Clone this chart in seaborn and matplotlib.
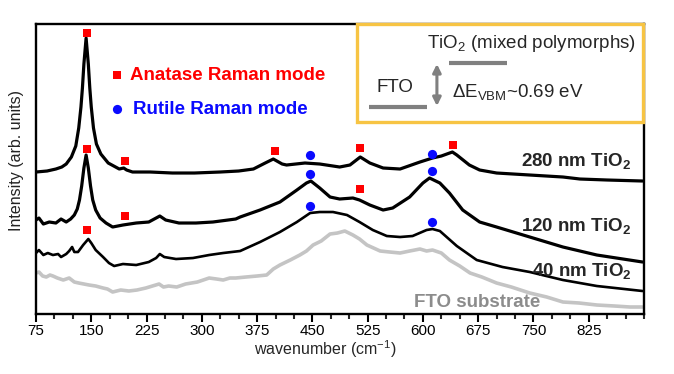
import matplotlib
matplotlib.use("Agg")
import matplotlib.pyplot as plt
from matplotlib.patches import Rectangle
import seaborn as sns

# Raman spectra (wavenumber in cm-1, intensity in arb. units)
wn_280 = [75, 90, 102, 110, 116, 123, 129, 133, 136, 138, 140, 143, 146, 148, 150, 153, 157,
          163, 173, 183, 188, 194, 198, 206, 230, 260, 290, 325, 350, 370, 386, 397, 409, 415,
          440, 460, 487, 501, 515, 528, 546, 569, 596, 613, 625, 640, 646, 663, 677, 700, 745, 790,
          813, 850, 898]
int_280 = [142, 143, 145, 147, 150, 157, 168, 186, 207, 226, 250, 276, 250, 226, 207, 186, 170,
           160, 151, 147, 145, 146, 144, 142, 142, 141, 141, 142, 143, 145, 151, 155, 150, 149,
           151, 150, 147, 149, 157, 151, 146, 145, 152, 156, 158, 162, 159, 149, 144, 141, 139, 137,
           135, 134, 133]

wn_120 = [75, 79, 85, 93, 102, 109, 116, 122, 127, 131, 134, 137, 140, 143, 146, 149, 152, 156,
          162, 170, 179, 193, 211, 228, 243, 251, 269, 292, 315, 346, 352, 379, 406, 429, 442, 448,
          460, 474, 487, 505, 514, 528, 546, 559, 582, 600, 609, 623, 636, 654, 677, 700, 745, 790,
          836, 898]
int_120 = [94, 96, 90, 92, 91, 95, 92, 95, 99, 105, 114, 128, 146, 159, 146, 128, 114, 104,
           96, 91, 87, 89, 91, 92, 98, 94, 91, 91, 92, 95, 97, 104, 112, 124, 131, 133,
           126, 117, 115, 116, 114, 109, 104, 106, 117, 131, 136, 131, 121, 104, 92, 87, 77, 67,
           59, 52]

wn_40 = [75, 79, 85, 91, 98, 105, 109, 116, 120, 124, 127, 132, 139, 146, 150, 156, 166, 174, 181,
         193, 211, 228, 238, 243, 249, 265, 288, 310, 329, 352, 379, 406, 429, 447, 460, 478, 497,
         514, 532, 551, 569, 586, 605, 613, 623, 646, 673, 708, 745, 790, 836, 898]
int_40 = [61, 64, 59, 61, 59, 60, 57, 60, 63, 67, 62, 62, 69, 75, 71, 64, 57, 51, 48,
          50, 49, 52, 56, 60, 57, 55, 56, 59, 61, 63, 72, 82, 92, 101, 102, 102, 99,
          92, 84, 78, 77, 78, 84, 85, 83, 68, 54, 47, 42, 34, 28, 23]

wn_fto = [75, 79, 84, 89, 94, 98, 104, 112, 120, 127, 133, 140, 147, 156, 166, 172, 179, 190, 201,
          212, 224, 233, 242, 248, 255, 266, 278, 294, 310, 320, 329, 338, 346, 360, 375, 388,
          397, 406, 420, 433, 442, 451, 462, 474, 484, 494, 505, 514, 524, 533, 542, 555, 569,
          582, 596, 605, 613, 625, 636, 650, 664, 680, 700, 720, 745, 768, 790, 812, 836, 860,
          881, 898]
int_fto = [41, 42, 38, 37, 39, 38, 36, 34, 36, 32, 31, 30, 29, 28, 26, 25, 22, 24, 23,
           24, 26, 28, 30, 27, 28, 27, 30, 32, 36, 35, 34, 36, 36, 37, 38, 39,
           45, 49, 54, 59, 63, 69, 73, 80, 81, 83, 79, 75, 69, 66, 63, 62, 61,
           63, 65, 63, 64, 61, 54, 48, 41, 37, 31, 27, 21, 17, 12, 11, 9, 8,
           7, 7]

# Raman mode markers
anatase_wn = [144, 196, 399, 515, 641, 144, 196, 515, 144]
anatase_int = [281, 153, 163, 166, 169, 165, 98, 125, 84]
rutile_wn = [447, 612, 447, 612, 447, 612]
rutile_int = [159, 160, 140, 143, 108, 92]

xticks = [75, 150, 225, 300, 375, 450, 525, 600, 675, 750, 825]

sns.set_style("ticks")
plt.rcParams['font.family'] = ['Liberation Sans', 'DejaVu Sans']
plt.rcParams['mathtext.fontset'] = 'custom'
plt.rcParams['mathtext.rm'] = 'Liberation Sans'
plt.rcParams['mathtext.bf'] = 'Liberation Sans:bold'

fig = plt.figure(figsize=(6.74, 3.74), dpi=100)
ax = fig.add_axes([0.0534, 0.1604, 0.9021, 0.7754])

sns.lineplot(x=wn_fto, y=int_fto, color='#c4c4c4', lw=2.6, ax=ax, sort=False)
sns.lineplot(x=wn_40, y=int_40, color='black', lw=1.9, ax=ax, sort=False)
sns.lineplot(x=wn_120, y=int_120, color='black', lw=2.3, ax=ax, sort=False)
sns.lineplot(x=wn_280, y=int_280, color='black', lw=2.3, ax=ax, sort=False)

sns.scatterplot(x=anatase_wn, y=anatase_int, marker='s', s=34, color='#ff0000', linewidth=0, ax=ax, zorder=5)
sns.scatterplot(x=rutile_wn, y=rutile_int, marker='o', s=44, color='#0a0aff', linewidth=0, ax=ax, zorder=5)

# legend for the markers
sns.scatterplot(x=[185], y=[239], marker='s', s=34, color='#ff0000', linewidth=0, ax=ax)
sns.scatterplot(x=[185], y=[205], marker='o', s=44, color='#0a0aff', linewidth=0, ax=ax)
ax.text(202, 239, 'Anatase Raman mode', color='#ff0000', fontsize=13.5, fontweight='bold', va='center')
ax.text(206, 205, 'Rutile Raman mode', color='#0a0aff', fontsize=13.5, fontweight='bold', va='center')

# curve labels
ax.text(883, 152, r'280 nm TiO$_\mathbf{2}$', fontsize=13.5, fontweight='bold', ha='right', va='center')
ax.text(883, 87, r'120 nm TiO$_\mathbf{2}$', fontsize=13.5, fontweight='bold', ha='right', va='center')
ax.text(883, 42, r'40 nm TiO$_\mathbf{2}$', fontsize=13.5, fontweight='bold', ha='right', va='center')
ax.text(673, 12, 'FTO substrate', fontsize=13.5, fontweight='bold', color='#8c8c8c', ha='center', va='center')

# inset band-offset box
ax.add_patch(Rectangle((0.528, 0.662), 0.470, 0.338, transform=ax.transAxes, fill=False,
                       edgecolor='#f7c443', lw=2.4, clip_on=False, zorder=10))
ax.text(606, 271, r'TiO$_2$ (mixed polymorphs)', fontsize=13.5, va='center')
ax.plot([635, 714], [251, 251], color='#808080', lw=3, solid_capstyle='butt')
ax.plot([527, 605], [207, 207], color='#808080', lw=3, solid_capstyle='butt')
ax.text(537, 227, 'FTO', fontsize=13.5, va='center')
ax.annotate('', xy=(619, 250), xytext=(619, 208),
            arrowprops=dict(arrowstyle='<|-|>', color='#808080', lw=2.2, mutation_scale=12,
                            shrinkA=0, shrinkB=0))
ax.text(639, 221, r'$\Delta$E$_{\mathrm{VBM}}$~0.69 eV', fontsize=13.5, va='center')

ax.set_xlim(75, 900)
ax.set_ylim(0, 290)
ax.set_xticks(xticks)
ax.set_xticks(list(range(100, 901, 25)), minor=True)
ax.set_yticks([])
ax.tick_params(axis='x', which='major', length=6, width=1.5, direction='out', pad=1.5,
               labelsize=11, colors='black')
ax.tick_params(axis='x', which='minor', length=3.6, width=1.5, direction='out')
for sp in ax.spines.values():
    sp.set_linewidth(1.7)
    sp.set_color('black')

ax.set_xlabel(r'wavenumber (cm$^{-1}$)', fontsize=11.5)
ax.xaxis.set_label_coords(0.475, -0.085)
ax.set_ylabel('Intensity (arb. units)', fontsize=11.5, color='#222222')
ax.yaxis.set_label_coords(-0.02, 0.53)

fig.savefig('out.png', dpi=100)
